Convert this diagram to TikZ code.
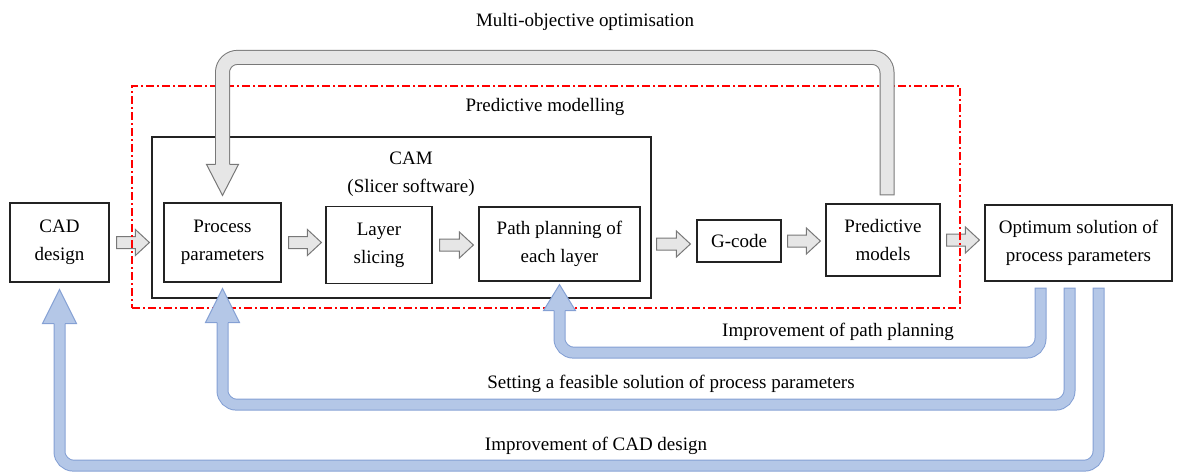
\documentclass[tikz,border=0pt]{standalone}
\usepackage{fontspec}
\setmainfont{Liberation Serif}
\usetikzlibrary{calc}

\definecolor{bfill}{RGB}{180,199,231}
\definecolor{bline}{RGB}{132,160,212}
\definecolor{gfill}{RGB}{230,230,230}
\definecolor{gline}{RGB}{120,120,120}
\definecolor{boxline}{RGB}{35,35,35}
\definecolor{zonered}{RGB}{255,0,0}

\tikzset{
  txt/.style={font=\fontsize{19}{28}\selectfont, align=center, inner sep=0pt},
  box/.style={txt, draw=boxline, line width=1.2pt},
  zone/.style={draw=zonered, line width=1.3pt, dash pattern=on 8pt off 3pt on 2pt off 3pt},
  smallarrow/.style={fill=gfill, draw=gline, line width=1pt, line join=miter},
  % fat connector shafts: an outline stroke and a narrower fill stroke
  bout/.style={draw=bline, line width=12pt, rounded corners=14pt},
  bin/.style={draw=bfill, line width=10pt, rounded corners=14pt, shorten <=1pt},
  bhead/.style={fill=bfill, draw=bline, line width=1pt, line join=miter},
  gout/.style={draw=gline, line width=15pt, rounded corners=15pt},
  gin/.style={draw=gfill, line width=13pt, rounded corners=15pt, shorten <=1pt},
  ghead/.style={fill=gfill, draw=gline, line width=1pt, line join=miter},
}

% block arrow between two nodes: #3 gap after source, #4 gap before target
\newcommand\blockarrow[4]{%
  \filldraw[smallarrow] let \p1=($(#1.east)+(#3,0)$), \p2=($(#2.west)+(-#4,0)$) in
    (\x1,\y1+6pt) -- (\x2-14pt,\y1+6pt) -- (\x2-14pt,\y1+13pt) -- (\x2,\y1)
    -- (\x2-14pt,\y1-13pt) -- (\x2-14pt,\y1-6pt) -- (\x1,\y1-6pt) -- cycle;}

% fat shaft along a path: #1 style prefix, #2 path
\newcommand\fatshaft[2]{\draw[#1out] #2; \draw[#1in] #2;}

% arrow head: #1 tip, #2 half width, #3 length (sign gives direction), #4 half shaft, #5 style
\newcommand\fathead[5]{%
  \filldraw[#5] ($(#1)+(-#4,#3)$) -- ($(#1)+(-#2,#3)$) -- (#1)
    -- ($(#1)+(#2,#3)$) -- ($(#1)+(#4,#3)$);}

\begin{document}
\begin{tikzpicture}[x=1pt, y=-1pt]
  \useasboundingbox (0,0) rectangle (1187,472);

  % process boxes
  \node[box, minimum width=99pt, minimum height=79pt] (cad) at (59.5,242.5) {CAD\\design};
  \node[box, minimum width=499pt, minimum height=161pt] (cam) at (401.5,217.5) {};
  \node[txt] (camlabel) at (411,174) {CAM\\(Slicer software)};
  \node[box, minimum width=117pt, minimum height=79pt] (pp) at (222.5,242.5) {Process\\parameters};
  \node[box, minimum width=106pt, minimum height=77pt] (ls) at (379,245) {Layer\\slicing};
  \node[box, minimum width=161pt, minimum height=74pt] (path) at (559.5,244) {Path planning of\\each layer};
  \node[box, minimum width=84pt, minimum height=42pt] (gc) at (739,241) {G-code};
  \node[box, minimum width=114pt, minimum height=72pt] (pred) at (883,240) {Predictive\\models};
  \node[box, minimum width=187pt, minimum height=76pt] (opt) at (1078.5,243) {Optimum solution of\\process parameters};

  % labels
  \node[txt] (molabel) at (585,22) {Multi-objective optimisation};
  \node[txt] (pmlabel) at (545,107) {Predictive modelling};
  \node[txt] (ipplabel) at (838,332) {Improvement of path planning};
  \node[txt] (sfslabel) at (671,384) {Setting a feasible solution of process parameters};
  \node[txt] (icadlabel) at (596,446) {Improvement of CAD design};

  % forward flow
  \blockarrow{cad}{pp}{7}{14}
  \blockarrow{pp}{ls}{7}{4}
  \blockarrow{ls}{path}{7}{5}
  \blockarrow{path}{gc}{16}{6}
  \blockarrow{gc}{pred}{6}{5}
  \blockarrow{pred}{opt}{6}{5}

  % predictive modelling zone
  \node[zone, minimum width=828pt, minimum height=222pt, inner sep=0pt] (pmzone) at (546,197) {};

  % multi-objective optimisation loop
  \coordinate (gs) at ($(pred.north)+(4,-8)$);
  \coordinate (gt) at ($(pp.north)+(0,-7)$);
  \fatshaft{g}{(gs) -- ($(gs)+(0,-138)$) -| ($(gt)+(0,-30)$)}
  \fathead{gt}{16}{-31}{7}{ghead}

  % feedback loops
  \coordinate (b1s) at ($(opt.south)+(-38,6)$);
  \coordinate (b1t) at ($(path.south)+(0,3)$);
  \fatshaft{b}{(b1s) -- ($(b1s)+(0,65)$) -| ($(b1t)+(0,25)$)}
  \fathead{b1t}{16}{26}{5.5}{bhead}

  \coordinate (b2s) at ($(opt.south)+(-9,6)$);
  \coordinate (b2t) at ($(pp.south)+(0,6)$);
  \fatshaft{b}{(b2s) -- ($(b2s)+(0,117)$) -| ($(b2t)+(0,33)$)}
  \fathead{b2t}{17}{34}{5.5}{bhead}

  \coordinate (b3s) at ($(opt.south)+(20,6)$);
  \coordinate (b3t) at ($(cad.south)+(0,7)$);
  \fatshaft{b}{(b3s) -- ($(b3s)+(0,178)$) -| ($(b3t)+(0,33)$)}
  \fathead{b3t}{17}{34}{5.5}{bhead}
\end{tikzpicture}
\end{document}
